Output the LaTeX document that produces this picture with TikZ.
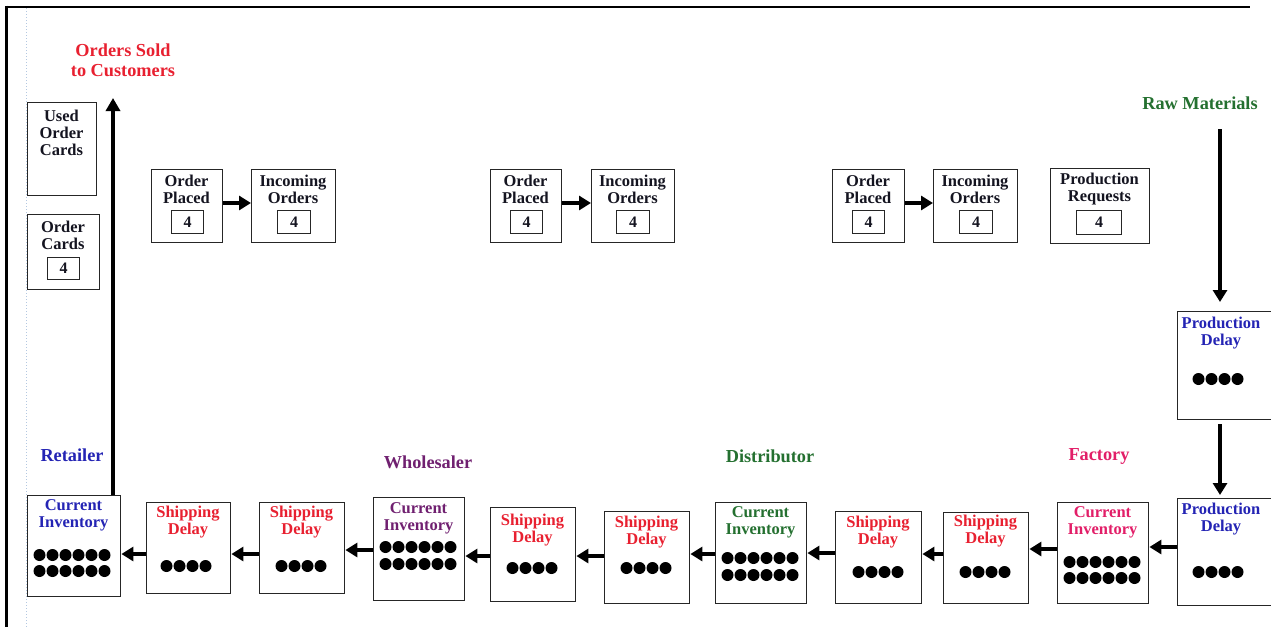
\documentclass[tikz,border=0pt]{standalone}
\usepackage{fontspec}
\setmainfont{Liberation Serif}
\usetikzlibrary{arrows.meta}
\definecolor{cblue}{RGB}{36,36,180}
\definecolor{cred}{RGB}{232,32,48}
\definecolor{cpurple}{RGB}{112,32,112}
\definecolor{cgreen}{RGB}{36,112,48}
\definecolor{cpink}{RGB}{226,30,104}
\definecolor{ctext}{RGB}{20,20,32}
\definecolor{cdots}{RGB}{180,200,225}
\newcommand\dotrow[3]{\foreach \k in {1,...,#3}{\fill[black] ({#1+(\k-(#3+1)/2)*13},#2) circle (6pt);}}
\begin{document}
\begin{tikzpicture}[x=1pt,y=-1pt,
  box/.style={draw=black!85, line width=1.4pt, inner sep=0pt, anchor=north west},
  numbox/.style={draw=black!85, line width=1.2pt, inner sep=0pt, anchor=north west, text=ctext, font=\fontsize{16}{16}\selectfont\bfseries},
  txt/.style={align=center, inner sep=0pt, text=ctext, font=\fontsize{16.5}{17}\selectfont\bfseries},
  lab/.style={align=center, inner sep=0pt, font=\fontsize{18.3}{20}\selectfont\bfseries},
  arr/.style={line width=3.8pt, -{Triangle[length=12pt,width=14pt]}},
  ]
\useasboundingbox (0,0) rectangle (1271,627);
\clip (0,0) rectangle (1271,627);
% frame
\draw[cdots, dotted, line width=1pt] (26,8) -- (26,627);
\draw[line width=3pt] (6.7,5.7) -- (6.7,627);
\draw[line width=2pt] (5,6.7) -- (1250,6.7);

% labels
\node[lab, text=cred] (sold) at (123,60) {Orders Sold\\to Customers};
\node[lab, text=cblue] (retl) at (72,455) {Retailer};
\node[lab, text=cpurple] (whol) at (428,462) {Wholesaler};
\node[lab, text=cgreen] (dist) at (770,456) {Distributor};
\node[lab, text=cpink] (fact) at (1099,456) {Factory};
\node[lab, text=cgreen] (raw) at (1200,103) {Raw Materials};

% top-left cards
\node[box, minimum width=69pt, minimum height=93pt] (uoc) at (27,102) {};
\node[txt] (uoct) at (61.5,132.5) {Used\\Order\\Cards};
\node[box, minimum width=72pt, minimum height=75pt] (oc) at (27,214) {};
\node[txt] (oct) at (63,235.5) {Order\\Cards};
\node[numbox, minimum width=32pt, minimum height=22pt] (ocn) at (47,257) {4};

% top row order boxes
\node[box, minimum width=71pt, minimum height=73pt] (op1) at (151,169) {};
\node[txt] (op1t) at (186.5,189) {Order\\Placed};
\node[numbox, minimum width=32pt, minimum height=23pt] (op1n) at (171,210) {4};
\node[box, minimum width=84pt, minimum height=73pt] (io1) at (251,169) {};
\node[txt] (io1t) at (293,189) {Incoming\\Orders};
\node[numbox, minimum width=33pt, minimum height=23pt] (io1n) at (277,210) {4};

\node[box, minimum width=71pt, minimum height=73pt] (op2) at (490,169) {};
\node[txt] (op2t) at (525.5,189) {Order\\Placed};
\node[numbox, minimum width=32pt, minimum height=23pt] (op2n) at (510,210) {4};
\node[box, minimum width=83pt, minimum height=73pt] (io2) at (591,169) {};
\node[txt] (io2t) at (632.5,189) {Incoming\\Orders};
\node[numbox, minimum width=33pt, minimum height=23pt] (io2n) at (616,210) {4};

\node[box, minimum width=72pt, minimum height=73pt] (op3) at (832,169) {};
\node[txt] (op3t) at (868,189) {Order\\Placed};
\node[numbox, minimum width=32pt, minimum height=23pt] (op3n) at (852,210) {4};
\node[box, minimum width=84pt, minimum height=73pt] (io3) at (933,169) {};
\node[txt] (io3t) at (975,189) {Incoming\\Orders};
\node[numbox, minimum width=33pt, minimum height=23pt] (io3n) at (959,210) {4};

\node[box, minimum width=99pt, minimum height=75pt] (pr) at (1050,168) {};
\node[txt] (prt) at (1099.5,189) {Production\\Requests};
\node[numbox, minimum width=45pt, minimum height=24pt] (prn) at (1076,210) {4};

% production delays
\node[box, minimum width=110pt, minimum height=108pt] (pd1) at (1177,311) {};
\node[txt, text=cblue] (pd1t) at (1221,333.5) {Production\\Delay};
\dotrow{1218}{379}{4}
\node[box, minimum width=110pt, minimum height=107pt] (pd2) at (1177,498) {};
\node[txt, text=cblue] (pd2t) at (1221,519) {Production\\Delay};
\dotrow{1218}{572}{4}

% bottom row
\node[box, minimum width=93pt, minimum height=101pt] (cir) at (27,495) {};
\node[txt, text=cblue] (cirt) at (73.5,515.5) {Current\\Inventory};
\dotrow{72}{555}{6}\dotrow{72}{571}{6}

\node[box, minimum width=84pt, minimum height=91pt] (sd1) at (146,502) {};
\node[txt, text=cred] (sd1t) at (188,522) {Shipping\\Delay};
\dotrow{186}{566}{4}

\node[box, minimum width=85pt, minimum height=91pt] (sd2) at (259,502) {};
\node[txt, text=cred] (sd2t) at (301.5,522) {Shipping\\Delay};
\dotrow{301}{566}{4}

\node[box, minimum width=91pt, minimum height=103pt] (ciw) at (373,497) {};
\node[txt, text=cpurple] (ciwt) at (418.5,518) {Current\\Inventory};
\dotrow{418}{547}{6}\dotrow{418}{564}{6}

\node[box, minimum width=85pt, minimum height=94pt] (sd3) at (490,507) {};
\node[txt, text=cred] (sd3t) at (532.5,530) {Shipping\\Delay};
\dotrow{532}{568}{4}

\node[box, minimum width=85pt, minimum height=92pt] (sd4) at (604,511) {};
\node[txt, text=cred] (sd4t) at (646.5,532) {Shipping\\Delay};
\dotrow{646}{568}{4}

\node[box, minimum width=91pt, minimum height=101pt] (cid) at (715,502) {};
\node[txt, text=cgreen] (cidt) at (760.5,522.5) {Current\\Inventory};
\dotrow{760}{558}{6}\dotrow{760}{575}{6}

\node[box, minimum width=86pt, minimum height=92pt] (sd5) at (835,511) {};
\node[txt, text=cred] (sd5t) at (878,532) {Shipping\\Delay};
\dotrow{878}{572}{4}

\node[box, minimum width=85pt, minimum height=91pt] (sd6) at (943,512) {};
\node[txt, text=cred] (sd6t) at (985.5,531) {Shipping\\Delay};
\dotrow{985}{572}{4}

\node[box, minimum width=91pt, minimum height=101pt] (cif) at (1057,502) {};
\node[txt, text=cpink] (cift) at (1102.5,522) {Current\\Inventory};
\dotrow{1102}{562}{6}\dotrow{1102}{578}{6}

% connectors top
\draw[arr] (op1.east |- 0,203) -- (io1.west |- 0,203);
\draw[arr] (op2.east |- 0,203) -- (io2.west |- 0,203);
\draw[arr] (op3.east |- 0,203) -- (io3.west |- 0,203);
\coordinate (soldtip) at (113,98);
\draw[arr, -{Triangle[length=13pt,width=14pt]}] (cir.north -| soldtip) -- (soldtip);
\coordinate (rawtop) at (1220,129);
\draw[arr] (rawtop) -- ([shift={(0,-9)}]pd1.north -| rawtop);
\draw[arr] ([shift={(0,4)}]pd1.south -| rawtop) -- ([shift={(0,-3)}]pd2.north -| rawtop);

% connectors bottom
\draw[arr] (sd1.west |- 0,554) -- (cir.east |- 0,554);
\draw[arr] (sd2.west |- 0,554) -- (sd1.east |- 0,554);
\draw[arr] (ciw.west |- 0,550) -- (sd2.east |- 0,550);
\draw[arr] (sd3.west |- 0,556) -- (ciw.east |- 0,556);
\draw[arr] (sd4.west |- 0,556) -- (sd3.east |- 0,556);
\draw[arr] (cid.west |- 0,554) -- (sd4.east |- 0,554);
\draw[arr] (sd5.west |- 0,553) -- (cid.east |- 0,553);
\draw[arr] (sd6.west |- 0,554) -- (sd5.east |- 0,554);
\draw[arr] (cif.west |- 0,549) -- (sd6.east |- 0,549);
\draw[arr] (pd2.west |- 0,547) -- (cif.east |- 0,547);
\end{tikzpicture}
\end{document}
